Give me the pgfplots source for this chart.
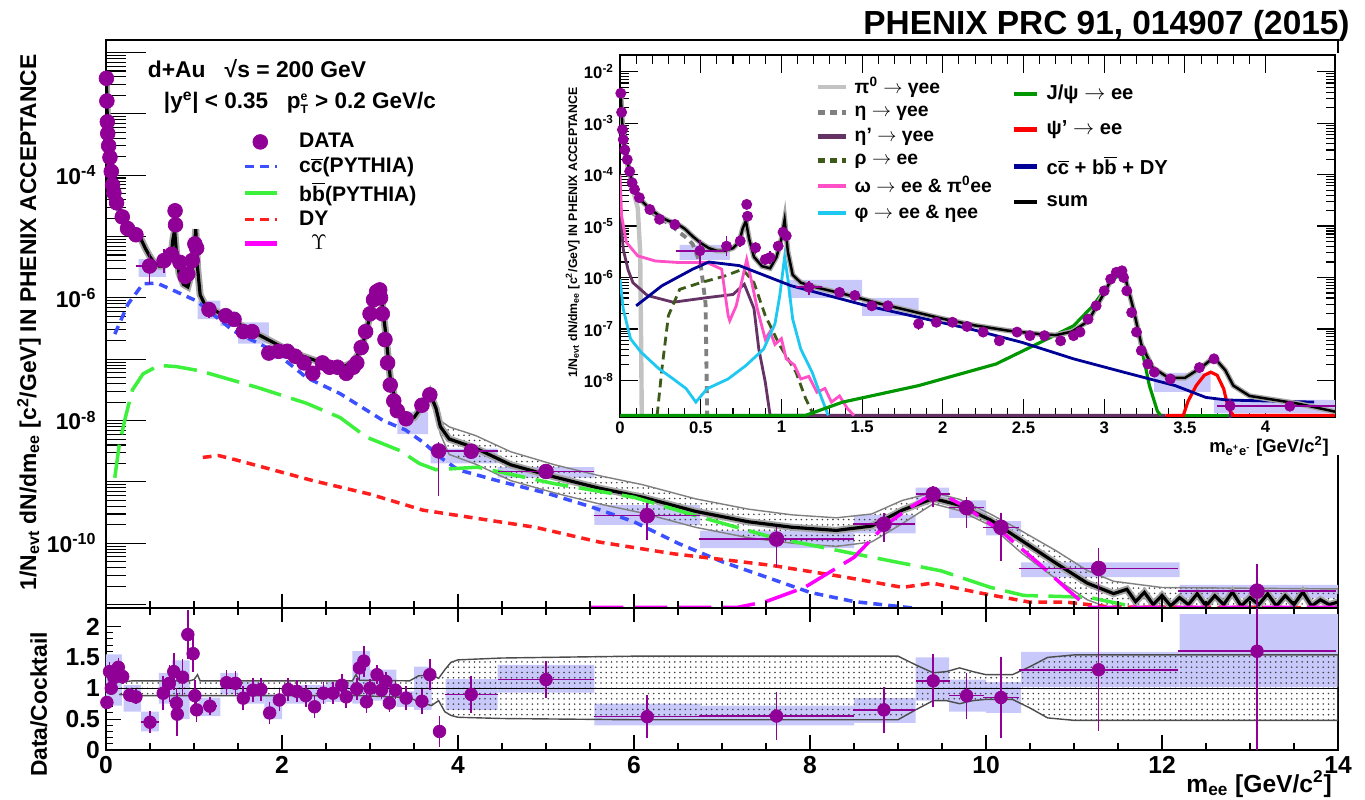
\documentclass[border=0pt]{standalone}
\usepackage{fontspec}
\setmainfont{Liberation Sans}
\usepackage{pgfplots}
\usepackage{pgfplotstable}
\pgfplotsset{compat=1.18}
\usetikzlibrary{patterns}

\definecolor{datap}{RGB}{145,0,150}
\definecolor{sysb}{RGB}{200,200,250}
\definecolor{ccblue}{RGB}{60,80,255}
\definecolor{bbgreen}{RGB}{60,240,60}
\definecolor{dyred}{RGB}{255,30,30}
\definecolor{upsmag}{RGB}{255,0,255}
\definecolor{pizero}{RGB}{195,195,195}
\definecolor{etagray}{RGB}{128,128,128}
\definecolor{etap}{RGB}{100,50,100}
\definecolor{rhogreen}{RGB}{60,90,25}
\definecolor{omegapink}{RGB}{255,80,200}
\definecolor{phicyan}{RGB}{30,200,240}
\definecolor{jpsigreen}{RGB}{0,150,0}
\definecolor{psired}{RGB}{255,0,0}
\definecolor{hfnavy}{RGB}{0,0,150}

\newcommand{\ol}[1]{$\overline{\mbox{#1}}$}
\newcommand{\fsz}[1]{\fontsize{#1}{#1}\selectfont\bfseries}
\newcommand{\sysbox}[4]{\addplot[fill=sysb, draw=none, forget plot] coordinates {(#1,#3) (#2,#3) (#2,#4) (#1,#4) (#1,#3)};}

% ---------------- data ----------------
\pgfplotstableread{
x y ex eyl eyh
0.005 3.8e-3 0 0 0
0.01 1.62e-3 0 0 0
0.015 7.41e-4 0 0 0
0.02 4.79e-4 0 0 0
0.03 3.02e-4 0 0 0
0.045 1.95e-4 0 0 0
0.06 1.15e-4 0 0 0
0.075 6.92e-5 0 0 0
0.09 5.13e-5 0 0 0
0.12 3.55e-5 0 0 0
0.185 2.09e-5 0 0 0
0.245 1.35e-5 0 0 0
0.34 1.07e-5 0 0 0
0.495 3.31e-6 0.15 1.6e-6 2.0e-6
0.66 4.07e-6 0 1.5e-6 2.2e-6
0.745 5.13e-6 0 1.2e-6 1.5e-6
0.785 2.63e-5 0 0 0
0.79 1.55e-5 0 0 0
0.84 3.8e-6 0 1.0e-6 1.2e-6
0.9 2.24e-6 0 5e-7 6e-7
0.93 2.45e-6 0 6e-7 8e-7
0.98 4.07e-6 0 0 0
1.01 7.59e-6 0 0 0
1.03 6.46e-6 0 0 0
1.17 6.46e-7 0.08 1.8e-7 2e-7
1.36 5.13e-7 0 0 0
1.455 4.47e-7 0 0 0
1.56 2.82e-7 0 0 0
1.66 2.82e-7 0 0 0
1.85 1.26e-7 0 3e-8 3e-8
1.96 1.35e-7 0 0 0
2.06 1.35e-7 0 0 0
2.15 1.12e-7 0 0 0
2.25 8.71e-8 0 0 0
2.35 5.89e-8 0 1.2e-8 1.2e-8
2.46 8.71e-8 0 0 0
2.54 7.41e-8 0 0 0
2.63 7.41e-8 0 0 0
2.73 5.89e-8 0 0 0
2.81 7.41e-8 0 0 0
2.85 8.71e-8 0 0 0
2.9 1.55e-7 0 0 0
2.95 2.82e-7 0 0 0
3.0 5.5e-7 0 0 0
3.04 9.33e-7 0 0 0
3.075 1.26e-6 0 0 0
3.11 1.35e-6 0 0 0
3.12 1.0e-6 0 0 0
3.14 5.5e-7 0 0 0
3.17 2.09e-7 0 0 0
3.2 8.71e-8 0 0 0
3.23 3.8e-8 0 0 0
3.27 2.09e-8 0 0 0
3.31 1.45e-8 0 0 0
3.41 1.07e-8 0 2e-9 2e-9
3.59 1.78e-8 0 0 0
3.68 2.63e-8 0 0 0
3.78 3.2e-9 0.08 2.6e-9 1.2e-9
4.15 3.16e-9 0.3 6e-10 6e-10
5.0 1.48e-9 0.55 2e-10 2e-10
6.15 2.82e-10 0.6 1.7e-10 1.7e-10
7.62 1.17e-10 0.88 7.6e-11 6.5e-11
8.84 2.04e-10 0.35 1.0e-10 1.1e-10
9.4 6.31e-10 0.19 2.4e-10 2.4e-10
9.78 3.8e-10 0.2 2.0e-10 1.8e-10
10.17 1.82e-10 0.2 1.3e-10 1.3e-10
11.28 3.89e-11 0.9 3.5e-11 4.4e-11
13.08 1.66e-11 0.9 1.6e-11 3e-11
}\dataee

\pgfplotstableread{
x y
0.005 3.55e-3
0.01 1.58e-3
0.02 5.01e-4
0.04 2.24e-4
0.06 1.12e-4
0.08 6.31e-5
0.1 4.47e-5
0.13 3.16e-5
0.18 2.24e-5
0.25 1.51e-5
0.3 1.26e-5
0.35 1.12e-5
0.4 8.91e-6
0.45 6.31e-6
0.5 4.68e-6
0.55 3.72e-6
0.6 3.31e-6
0.65 3.31e-6
0.7 3.72e-6
0.74 5.01e-6
0.76 8.91e-6
0.78 1.26e-5
0.8 5.62e-6
0.83 2.51e-6
0.88 1.66e-6
0.93 1.51e-6
0.97 2.51e-6
1.0 5.62e-6
1.02 1.32e-5
1.04 3.16e-6
1.07 1.12e-6
1.12 7.94e-7
1.2 6.61e-7
1.4 4.68e-7
1.6 3.16e-7
1.8 2.24e-7
2.0 1.58e-7
2.2 1.17e-7
2.4 9.33e-8
2.6 7.94e-8
2.7 7.59e-8
2.8 8.91e-8
2.9 1.41e-7
3.0 5.01e-7
3.05 1.0e-6
3.1 1.32e-6
3.13 1.0e-6
3.18 2.51e-7
3.23 5.01e-8
3.3 1.78e-8
3.4 1.12e-8
3.5 1.12e-8
3.6 1.78e-8
3.68 2.82e-8
3.75 1.58e-8
3.8 7.94e-9
3.9 5.01e-9
4.2 3.55e-9
4.6 1.9e-9
5.1 1.2e-9
5.6 7.94e-10
6.1 5.62e-10
6.7 3.31e-10
7.3 2.24e-10
7.8 1.82e-10
8.3 1.62e-10
8.7 1.91e-10
9.05 3.47e-10
9.4 5.37e-10
9.7 4.17e-10
10.05 2.4e-10
10.4 1.12e-10
10.8 4.68e-11
11.15 2.24e-11
11.45 1.51e-11
11.6 1.78e-11
11.7 1.12e-11
11.8 1.58e-11
11.9 1.0e-11
12.0 1.41e-11
12.1 9.5e-12
12.2 1.3e-11
12.3 1.0e-11
12.4 1.5e-11
12.5 9.5e-12
12.6 1.4e-11
12.7 1.0e-11
12.8 1.6e-11
12.9 9.5e-12
13.0 1.3e-11
13.1 1.0e-11
13.2 1.5e-11
13.3 9.5e-12
13.4 1.4e-11
13.5 1.0e-11
13.6 1.6e-11
13.7 9.5e-12
13.8 1.2e-11
13.9 1.0e-11
14.0 1.1e-11
}\sumtab

% cocktail band: upper edge forward, lower edge back
\pgfplotstableread{
x y
3.75 1.9e-8
3.8 1.0e-8
3.9 7.9e-9
4.2 5.7e-9
4.6 3.1e-9
5.1 1.9e-9
5.6 1.27e-9
6.1 9.0e-10
6.7 5.3e-10
7.3 3.6e-10
7.8 2.9e-10
8.3 2.6e-10
8.7 3.0e-10
9.05 5.0e-10
9.4 6.7e-10
9.7 5.2e-10
10.05 3.0e-10
10.4 1.6e-10
10.8 7.5e-11
11.15 3.6e-11
11.45 2.4e-11
12.0 1.9e-11
14.0 1.8e-11
14.0 7e-12
12.0 7e-12
11.45 8.3e-12
11.15 1.2e-11
10.8 2.6e-11
10.4 7e-11
10.05 1.95e-10
9.7 3.4e-10
9.4 4.4e-10
9.05 2.1e-10
8.7 1.05e-10
8.3 8.9e-11
7.8 1.0e-10
7.3 1.23e-10
6.7 1.82e-10
6.1 3.1e-10
5.6 4.4e-10
5.1 6.6e-10
4.6 1.05e-9
4.2 1.95e-9
3.9 2.8e-9
3.8 6.0e-9
3.75 1.3e-8
}\sumband

\pgfplotstableread{
x y
0.1 2.57e-7
0.25 7.94e-7
0.42 1.7e-6
0.58 1.74e-6
0.8 1.26e-6
1.03 8.91e-7
1.45 2.88e-7
1.9 1.38e-7
2.28 5.01e-8
2.66 2.75e-8
3.15 1.0e-8
3.4 7.08e-9
3.6 4.47e-9
3.8 2.51e-9
4.0 1.58e-9
4.5 1.0e-9
5.0 6.61e-10
5.5 3.98e-10
6.0 2.24e-10
6.5 1.0e-10
7.0 5.01e-11
7.5 2.82e-11
8.0 1.58e-11
8.5 1.12e-11
9.2 8.7e-12
}\ccbar

\pgfplotstableread{
x y
0.1 1.17e-9
0.15 3.98e-9
0.22 1.12e-8
0.3 3.16e-8
0.42 5.75e-8
0.6 7.94e-8
0.8 7.59e-8
1.07 6.46e-8
1.72 3.47e-8
2.28 1.91e-8
2.66 1.12e-8
2.96 5.37e-9
3.34 3.24e-9
3.56 2.0e-9
3.75 1.58e-9
4.22 1.74e-9
5.1 9.33e-10
6.0 5.62e-10
6.7 2.82e-10
7.56 1.26e-10
8.5 6.76e-11
9.49 3.55e-11
10.05 1.91e-11
10.43 1.41e-11
11.16 1.32e-11
11.7 9.1e-12
12.0 8.5e-12
}\bbbar

\pgfplotstableread{
x y
1.1 2.51e-9
1.28 2.69e-9
1.5 2.24e-9
2.35 1.05e-9
3.0 6.31e-10
3.6 3.47e-10
4.88 1.82e-10
5.6 1.05e-10
6.44 6.76e-11
7.56 4.37e-11
8.39 2.82e-11
9.05 1.91e-11
9.39 2.24e-11
9.93 1.55e-11
10.49 1.1e-11
10.9 1.1e-11
11.43 9.1e-12
14.0 8.9e-12
}\dytab

\pgfplotstableread{
x y
5.5 9e-12
7.17 9e-12
7.5 1.12e-11
7.94 1.91e-11
8.5 5.89e-11
8.83 1.82e-10
9.1 3.55e-10
9.39 6.31e-10
9.5 6.31e-10
9.77 3.89e-10
10.16 1.62e-10
10.6 4.68e-11
10.93 1.74e-11
11.16 9e-12
14.0 9e-12
}\upstab

\pgfplotstableread{
x r ex er
0.01 0.77 0 0.1
0.04 1.27 0 0.15
0.06 1.0 0 0.1
0.09 1.17 0 0.12
0.14 1.34 0 0.15
0.19 1.19 0 0.12
0.27 0.89 0 0.12
0.34 0.86 0 0.12
0.5 0.45 0.1 0.18
0.65 0.92 0 0.28
0.72 1.08 0 0.3
0.77 1.27 0 0.3
0.8 0.76 0 0.25
0.81 0.58 0 0.35
0.87 1.18 0 0.3
0.93 1.87 0 0.4
0.99 1.56 0 0.3
1.01 0.88 0 0.25
1.03 0.65 0 0.2
1.18 0.71 0.08 0.15
1.37 1.09 0 0.2
1.47 1.08 0 0.2
1.56 0.84 0 0.2
1.67 0.97 0 0.2
1.76 0.98 0 0.18
1.86 0.6 0 0.18
1.97 0.81 0 0.18
2.07 0.98 0 0.18
2.17 0.95 0 0.18
2.27 0.88 0 0.18
2.37 0.7 0 0.18
2.47 0.92 0 0.18
2.58 0.92 0 0.18
2.68 1.05 0 0.18
2.73 0.86 0 0.18
2.85 0.99 0 0.18
2.88 1.33 0 0.2
2.93 1.44 0 0.25
2.96 0.78 0 0.18
3.0 1.0 0 0.15
3.08 1.22 0 0.15
3.13 0.97 0 0.15
3.18 1.11 0 0.15
3.22 0.76 0 0.15
3.29 0.97 0 0.15
3.41 0.84 0 0.2
3.59 0.79 0 0.2
3.68 1.22 0 0.25
3.79 0.3 0 0.25
4.15 0.9 0.3 0.3
5.0 1.14 0.55 0.3
6.15 0.54 0.6 0.35
7.62 0.55 0.88 0.39
8.84 0.65 0.35 0.37
9.4 1.12 0.19 0.43
9.78 0.88 0.2 0.37
10.17 0.85 0.2 0.66
11.28 1.3 0.9 1.0
13.08 1.6 0.9 1.6
}\ratiotab

% ratio band: upper edge forward, lower edge back
\pgfplotstableread{
x y
0.15 1.1
0.3 1.12
0.95 1.12
1.0 1.14
1.04 1.22
1.07 1.12
2.8 1.12
2.84 1.22
2.88 1.13
3.45 1.12
3.55 1.2
3.7 1.22
3.78 1.16
3.85 1.3
3.92 1.42
4.0 1.46
4.5 1.49
6.0 1.52
9.0 1.52
9.2 1.38
9.4 1.25
9.55 1.27
9.7 1.33
9.85 1.27
10.0 1.22
10.3 1.22
10.5 1.35
10.7 1.5
11.0 1.54
14.0 1.54
14.0 0.48
11.0 0.48
10.7 0.52
10.5 0.68
10.3 0.82
10.0 0.82
9.85 0.8
9.7 0.75
9.55 0.8
9.4 0.8
9.2 0.65
9.0 0.49
6.0 0.49
4.5 0.51
4.0 0.53
3.92 0.56
3.85 0.62
3.78 0.8
3.7 0.72
3.55 0.78
3.45 0.85
2.88 0.88
2.84 0.88
2.8 0.88
1.07 0.88
1.04 0.9
1.0 0.88
0.95 0.88
0.3 0.88
0.15 0.9
}\ratioband

% inset cocktail components
\pgfplotstableread{
x y
0.0 3.16e-3
0.02 5.0e-4
0.05 1.26e-4
0.08 5.0e-5
0.11 2.24e-5
0.125 3.16e-6
0.13 1.0e-7
0.135 2.1e-9
}\pizerotab
\pgfplotstableread{
x y
0.01 2.0e-3
0.03 3.98e-4
0.06 1.12e-4
0.1 4.47e-5
0.2 1.78e-5
0.3 1.12e-5
0.4 6.31e-6
0.45 4.47e-6
0.5 1.78e-6
0.53 3.16e-7
0.54 2.1e-9
}\etatab
\pgfplotstableread{
x y
0.0 2.09e-5
0.02 3.55e-6
0.05 1.41e-6
0.08 7.94e-7
0.17 4.47e-7
0.33 3.31e-7
0.54 4.07e-7
0.7 4.68e-7
0.77 7.41e-7
0.83 2.51e-7
0.86 4.07e-8
0.9 9.33e-9
0.93 2.1e-9
3.38 2.1e-9
}\etaptab
\pgfplotstableread{
x y
0.23 2.1e-9
0.26 1.7e-8
0.3 1.82e-7
0.37 5.89e-7
0.5 7.94e-7
0.65 1.07e-6
0.76 1.45e-6
0.83 7.94e-7
0.9 1.82e-7
0.99 4.79e-8
1.09 1.45e-8
1.15 4.47e-9
1.2 2.1e-9
}\rhotab
\pgfplotstableread{
x y
0.0 1.0e-4
0.01 1.58e-5
0.04 4.79e-6
0.11 2.63e-6
0.22 2.09e-6
0.37 1.95e-6
0.54 1.95e-6
0.63 1.45e-6
0.67 1.82e-7
0.68 1.45e-7
0.72 2.82e-7
0.76 1.0e-6
0.785 2.24e-6
0.81 1.0e-6
0.85 2.51e-7
0.9 6.31e-8
0.93 8.9e-8
0.96 5.01e-8
1.0 6.5e-8
1.03 2.63e-8
1.08 2.0e-8
1.12 1.07e-8
1.17 1.2e-8
1.22 5.89e-9
1.27 7.0e-9
1.31 3.8e-9
1.36 5.0e-9
1.41 2.82e-9
1.45 2.1e-9
}\omegatab
\pgfplotstableread{
x y
0.0 9.33e-7
0.02 2.45e-7
0.065 6.46e-8
0.13 3.55e-8
0.24 1.7e-8
0.33 1.07e-8
0.41 6.92e-9
0.47 3.8e-9
0.54 6.92e-9
0.67 1.07e-8
0.78 1.95e-8
0.89 4.07e-8
0.96 1.26e-7
0.99 4.47e-7
1.02 2.51e-6
1.04 9.33e-7
1.07 1.55e-7
1.12 4.07e-8
1.19 1.45e-8
1.25 4.47e-9
1.29 2.1e-9
}\phitab
\pgfplotstableread{
x y
0.0 2.1e-9
1.15 2.1e-9
1.38 3.8e-9
1.85 7.94e-9
2.33 2.09e-8
2.65 6.46e-8
2.81 1.15e-7
2.93 2.82e-7
3.0 5.62e-7
3.06 9.55e-7
3.1 1.12e-6
3.14 7.94e-7
3.2 1.26e-7
3.25 2.24e-8
3.28 7.94e-9
3.33 2.51e-9
3.35 2.1e-9
}\jpsitab
\pgfplotstableread{
x y
3.38 2.1e-9
3.49 2.1e-9
3.52 3.98e-9
3.57 7.94e-9
3.62 1.26e-8
3.66 1.45e-8
3.7 1.26e-8
3.74 6.92e-9
3.77 2.82e-9
3.8 2.1e-9
4.43 2.1e-9
}\psiptab
\pgfplotstableread{
x y
0.1 2.82e-7
0.26 6.92e-7
0.45 1.45e-6
0.55 2.0e-6
0.74 1.7e-6
1.06 6.92e-7
1.53 2.82e-7
2.17 1.0e-7
2.49 5.5e-8
2.81 2.63e-8
3.12 1.45e-8
3.44 7.94e-9
3.63 4.68e-9
3.76 4.17e-9
4.3 3.8e-9
}\hftab

\pgfplotsset{
  rootaxis/.style={
    scale only axis, anchor=south west,
    axis line style={line width=0.9pt},
    every tick/.style={black, line width=0.6pt},
    tick align=inside,
  },
  pts/.style={only marks, mark=*, color=datap, mark options={fill=datap, draw=datap},
    error bars/.cd, x dir=both, x explicit, y dir=both, y explicit, error mark=none,
    error bar style={line width=0.9pt, color=datap}, /pgfplots/.cd},
  datalegend/.style={legend image code/.code={\fill[datap] (0.3cm,0cm) circle (4.2pt);}},
}

\begin{document}
\begin{tikzpicture}
\path[use as bounding box] (0,0) rectangle (27.3cm,15.98cm);

% ================= main panel =================
\begin{axis}[rootaxis,
  at={(2.12cm,3.82cm)}, width=24.64cm, height=11.36cm,
  xmin=0, xmax=14, ymin=8.8e-12, ymax=1.6e-2, ymode=log,
  xtick=\empty,
  ytick={1e-11,1e-10,1e-9,1e-8,1e-7,1e-6,1e-5,1e-4,1e-3,1e-2},
  yticklabels={,10\textsuperscript{-10},,10\textsuperscript{-8},,10\textsuperscript{-6},,10\textsuperscript{-4},,},
  ytick pos=left,
  major tick length=0.8cm, minor tick length=0.4cm,
  yticklabel style={font=\fsz{13}, xshift=-2pt},
  ylabel={1/N\textsubscript{evt} dN/dm\textsubscript{ee} [c\textsuperscript{2}/GeV] IN PHENIX ACCEPTANCE},
  ylabel style={at={(axis description cs:-0.0568,0.503)}, anchor=base, font=\fsz{13}},
  legend image code/.code={\draw[#1] (0cm,0cm) -- (0.64cm,0cm);},
  legend cell align=left,
  legend style={at={(axis description cs:0.111,0.8394)}, anchor=north west, draw=none, fill=none,
    inner sep=0pt, row sep=2pt, column sep=0.36cm, font=\fsz{12}, nodes={inner sep=1pt}},
]
% systematic boxes
\sysbox{0.37}{0.68}{2.2e-6}{4.3e-6}
\sysbox{1.04}{1.3}{4.5e-7}{9e-7}
\sysbox{1.3}{1.5}{3.5e-7}{6e-7}
\sysbox{1.5}{1.85}{1.8e-7}{4e-7}
\sysbox{1.8}{2.1}{1e-7}{1.7e-7}
\sysbox{3.31}{3.66}{6e-9}{1.4e-8}
\sysbox{3.69}{3.86}{2.0e-9}{3.9e-9}
\sysbox{3.86}{4.45}{2.0e-9}{3.5e-9}
\sysbox{4.45}{5.55}{1.17e-9}{1.74e-9}
\sysbox{5.55}{6.75}{2.0e-10}{4.2e-10}
\sysbox{6.75}{8.5}{8.3e-11}{1.6e-10}
\sysbox{8.5}{9.2}{1.45e-10}{2.9e-10}
\sysbox{9.2}{9.58}{4.7e-10}{8.1e-10}
\sysbox{9.58}{10.0}{2.6e-10}{5e-10}
\sysbox{10.0}{10.4}{1.35e-10}{2.3e-10}
\sysbox{10.4}{12.2}{2.8e-11}{4.9e-11}
\sysbox{12.2}{14}{1.26e-11}{2.1e-11}
% cocktail band and sum
\addplot[pattern=dots, pattern color=black!75, draw=gray, line width=0.8pt, forget plot] table[x=x, y=y] {\sumband};
\addplot[gray!70, line width=4pt, forget plot] table[x=x, y=y] {\sumtab};
\addplot[black, line width=1.8pt, forget plot] table[x=x, y=y] {\sumtab};
% components
\addplot[ccblue, line width=2pt, dash pattern=on 5pt off 3.5pt, forget plot] table[x=x, y=y] {\ccbar};
\addplot[bbgreen, line width=2pt, dash pattern=on 19pt off 6pt, forget plot] table[x=x, y=y] {\bbbar};
\addplot[dyred, line width=2pt, dash pattern=on 5pt off 3.5pt, forget plot] table[x=x, y=y] {\dytab};
\addplot[upsmag, line width=2pt, dash pattern=on 19pt off 6pt, forget plot] table[x=x, y=y] {\upstab};
% data
\addplot[pts, mark size=4.2pt, forget plot] table[x=x, y=y, x error=ex, y error plus=eyh, y error minus=eyl] {\dataee};
% legend
\addlegendimage{datalegend}
\addlegendentry{DATA}
\addlegendimage{ccblue, line width=2.2pt, dash pattern=on 5pt off 3.5pt}
\addlegendentry{c\ol{c}(PYTHIA)}
\addlegendimage{bbgreen, line width=2.5pt}
\addlegendentry{b\ol{b}(PYTHIA)}
\addlegendimage{dyred, line width=2.2pt, dash pattern=on 5pt off 3.5pt}
\addlegendentry{DY}
\addlegendimage{upsmag, line width=2.5pt}
\addlegendentry{\ \ $\Upsilon$}
\node[anchor=base west, font=\fsz{13}] at (axis description cs:0.029,0.934) {d+Au\ \ \ √s = 200 GeV};
\node[anchor=base west, font=\fsz{12.8}] at (axis description cs:0.042,0.880) {|y\textsuperscript{e}| < 0.35\ \ \ p$^{\textbf{\scriptsize e}}_{\textbf{\scriptsize T}}$ > 0.2 GeV/c};
\end{axis}

% x ticks on the main panel bottom (crossing the line)
\begin{axis}[rootaxis,
  at={(2.12cm,3.82cm)}, width=24.64cm, height=11.36cm,
  xmin=0, xmax=14, ymin=0, ymax=1,
  axis line style={draw=none}, ytick=\empty,
  xtick={0,2,...,14}, minor x tick num=3, xticklabels={},
  xtick pos=bottom, tick align=center,
  major tick length=0.56cm, minor tick length=0.28cm,
]
\addplot[draw=none, forget plot] coordinates {(0,0) (14,1)};
\end{axis}

% ================= ratio panel =================
\begin{axis}[rootaxis,
  at={(2.12cm,0.98cm)}, width=24.64cm, height=2.84cm,
  xmin=0, xmax=14, ymin=0, ymax=2.3,
  xtick={0,2,...,14}, minor x tick num=3,
  xticklabels={0,2,4,6,8,10,12,14},
  ytick={0,0.5,1,1.5,2}, minor y tick num=4,
  yticklabels={0,0.5,1,1.5,2},
  xtick pos=bottom, ytick pos=left,
  major tick length=0.3cm, minor tick length=0.15cm,
  ticklabel style={font=\fsz{14}},
  xlabel={m\textsubscript{ee} [GeV/c\textsuperscript{2}]},
  xlabel style={at={(axis description cs:1,0)}, anchor=base east, yshift=-0.84cm, font=\fsz{14}},
  ylabel={Data/Cocktail},
  ylabel style={at={(axis description cs:-0.0479,0.32)}, anchor=base, font=\fsz{13}},
]
\sysbox{0.0}{0.18}{0.72}{1.55}
\sysbox{0.2}{0.4}{0.62}{1.05}
\sysbox{0.4}{0.6}{0.3}{0.62}
\sysbox{0.6}{0.75}{0.75}{1.25}
\sysbox{0.75}{0.95}{0.5}{1.45}
\sysbox{1.05}{1.3}{0.55}{0.85}
\sysbox{1.3}{1.5}{0.9}{1.25}
\sysbox{1.5}{1.8}{0.75}{1.1}
\sysbox{1.8}{2.0}{0.5}{0.9}
\sysbox{2.0}{2.5}{0.75}{1.05}
\sysbox{2.5}{2.8}{0.78}{1.1}
\sysbox{2.8}{3.0}{0.75}{1.6}
\sysbox{3.0}{3.3}{0.8}{1.3}
\sysbox{3.3}{3.5}{0.7}{0.95}
\sysbox{3.5}{3.7}{0.65}{1.35}
\sysbox{3.86}{4.45}{0.65}{1.15}
\sysbox{4.45}{5.55}{0.93}{1.38}
\sysbox{5.55}{6.75}{0.4}{0.75}
\sysbox{6.75}{8.5}{0.4}{0.72}
\sysbox{8.5}{9.2}{0.44}{0.84}
\sysbox{9.2}{9.58}{0.8}{1.5}
\sysbox{9.58}{10.0}{0.62}{1.14}
\sysbox{10.0}{10.4}{0.6}{1.1}
\sysbox{10.4}{12.2}{1.02}{1.59}
\sysbox{12.2}{14}{1.02}{2.2}
\addplot[pattern=dots, pattern color=black!75, draw=black!70, line width=0.8pt, forget plot] table[x=x, y=y] {\ratioband};
\addplot[black, line width=0.6pt, forget plot] coordinates {(0,1) (14,1)};
\addplot[pts, mark size=3.6pt, forget plot] table[x=x, y=r, x error=ex, y error=er] {\ratiotab};
\end{axis}

% ================= inset =================
\fill[white] (11.26cm,6.88cm) rectangle (26.8cm,14.92cm);
\begin{axis}[rootaxis,
  at={(12.4cm,7.64cm)}, width=14.3cm, height=7.24cm,
  xmin=0, xmax=4.43, ymin=1.95e-9, ymax=2.1e-2, ymode=log,
  axis background/.style={fill=white},
  xtick={0,0.5,...,4}, minor x tick num=4,
  xticklabels={0,0.5,1,1.5,2,2.5,3,3.5,4},
  ytick={1e-8,1e-7,1e-6,1e-5,1e-4,1e-3,1e-2},
  yticklabels={10\textsuperscript{-8},10\textsuperscript{-7},10\textsuperscript{-6},10\textsuperscript{-5},10\textsuperscript{-4},10\textsuperscript{-3},10\textsuperscript{-2}},
  major tick length=0.36cm, minor tick length=0.18cm,
  ticklabel style={font=\fsz{9.5}},
  xticklabel style={yshift=1pt},
  xlabel={m\textsubscript{e\textsuperscript{+}e\textsuperscript{-}} [GeV/c\textsuperscript{2}]},
  xlabel style={at={(axis description cs:1,0)}, anchor=base east, yshift=-0.7cm, font=\fsz{10.5}},
  ylabel={1/N\textsubscript{evt} dN/dm\textsubscript{ee} [c\textsuperscript{2}/GeV] IN PHENIX ACCEPTANCE},
  ylabel style={at={(axis description cs:-0.06,0.51)}, anchor=base, font=\fsz{7}},
  legend image code/.code={\draw[#1] (0cm,0cm) -- (0.56cm,0cm);},
  legend cell align=left,
  legend style={at={(axis description cs:0.273,0.944)}, anchor=north west, draw=none, fill=none,
    inner sep=0pt, row sep=3.4pt, column sep=0.1cm, font=\fsz{11}, nodes={inner sep=1pt}},
]
\sysbox{0.37}{0.68}{2.2e-6}{4.3e-6}
\sysbox{1.04}{1.5}{4.0e-7}{9e-7}
\sysbox{1.5}{1.85}{1.8e-7}{4e-7}
\sysbox{3.31}{3.66}{6e-9}{1.4e-8}
\sysbox{3.68}{4.43}{2.3e-9}{4.2e-9}
\addplot[pizero, line width=2.5pt, forget plot] table[x=x, y=y] {\pizerotab};
\addplot[etagray, line width=2.2pt, dash pattern=on 4pt off 3pt, forget plot] table[x=x, y=y] {\etatab};
\addplot[etap, line width=1.6pt, forget plot] table[x=x, y=y] {\etaptab};
\addplot[rhogreen, line width=1.6pt, dash pattern=on 5pt off 3pt, forget plot] table[x=x, y=y] {\rhotab};
\addplot[omegapink, line width=1.6pt, forget plot] table[x=x, y=y] {\omegatab};
\addplot[phicyan, line width=1.6pt, forget plot] table[x=x, y=y] {\phitab};
\addplot[jpsigreen, line width=1.8pt, forget plot] table[x=x, y=y] {\jpsitab};
\addplot[jpsigreen, line width=1.8pt, forget plot] coordinates {(3.49,2.1e-9) (3.8,2.1e-9)};
\addplot[psired, line width=1.8pt, forget plot] table[x=x, y=y] {\psiptab};
\addplot[hfnavy, line width=1.6pt, forget plot] table[x=x, y=y] {\hftab};
\addplot[gray!70, line width=3pt, forget plot] table[x=x, y=y] {\sumtab};
\addplot[black, line width=1.4pt, forget plot] table[x=x, y=y] {\sumtab};
\addplot[pts, mark size=2.9pt, forget plot] table[x=x, y=y, x error=ex, y error plus=eyh, y error minus=eyl] {\dataee};
\addlegendimage{pizero, line width=2.5pt}
\addlegendentry{π\textsuperscript{0} $\rightarrow$ γee}
\addlegendimage{etagray, line width=2.5pt, dash pattern=on 4pt off 3pt}
\addlegendentry{η $\rightarrow$ γee}
\addlegendimage{etap, line width=2.5pt}
\addlegendentry{η' $\rightarrow$ γee}
\addlegendimage{rhogreen, line width=2.5pt, dash pattern=on 4pt off 3pt}
\addlegendentry{ρ $\rightarrow$ ee}
\addlegendimage{omegapink, line width=2.5pt}
\addlegendentry{ω $\rightarrow$ ee \& π\textsuperscript{0}ee}
\addlegendimage{phicyan, line width=2.5pt}
\addlegendentry{φ $\rightarrow$ ee \& ηee}
\end{axis}

% second legend column of the inset
\begin{axis}[
  at={(12.4cm,7.64cm)}, anchor=south west, scale only axis, width=14.3cm, height=7.24cm,
  xmin=0, xmax=1, ymin=0, ymax=1,
  axis line style={draw=none}, ticks=none,
  legend image code/.code={\draw[#1] (0cm,0cm) -- (0.46cm,0cm);},
  legend cell align=left,
  legend style={at={(axis description cs:0.547,0.922)}, anchor=north west, draw=none, fill=none,
    inner sep=0pt, row sep=8.5pt, column sep=0.12cm, font=\fsz{11.5}, nodes={inner sep=1pt}},
]
\addplot[draw=none, forget plot] coordinates {(0,0) (1,1)};
\addlegendimage{jpsigreen, line width=2.5pt}
\addlegendentry{J/ψ $\rightarrow$ ee}
\addlegendimage{psired, line width=2.5pt}
\addlegendentry{ψ' $\rightarrow$ ee}
\addlegendimage{hfnavy, line width=2.5pt}
\addlegendentry{c\ol{c} + b\ol{b} + DY}
\addlegendimage{black, line width=2.5pt}
\addlegendentry{sum}
\end{axis}

% header
\node[anchor=base east, inner sep=0pt, font=\fsz{19}] at (27.0cm,15.28cm) {PHENIX PRC 91, 014907 (2015)};
\end{tikzpicture}
\end{document}
